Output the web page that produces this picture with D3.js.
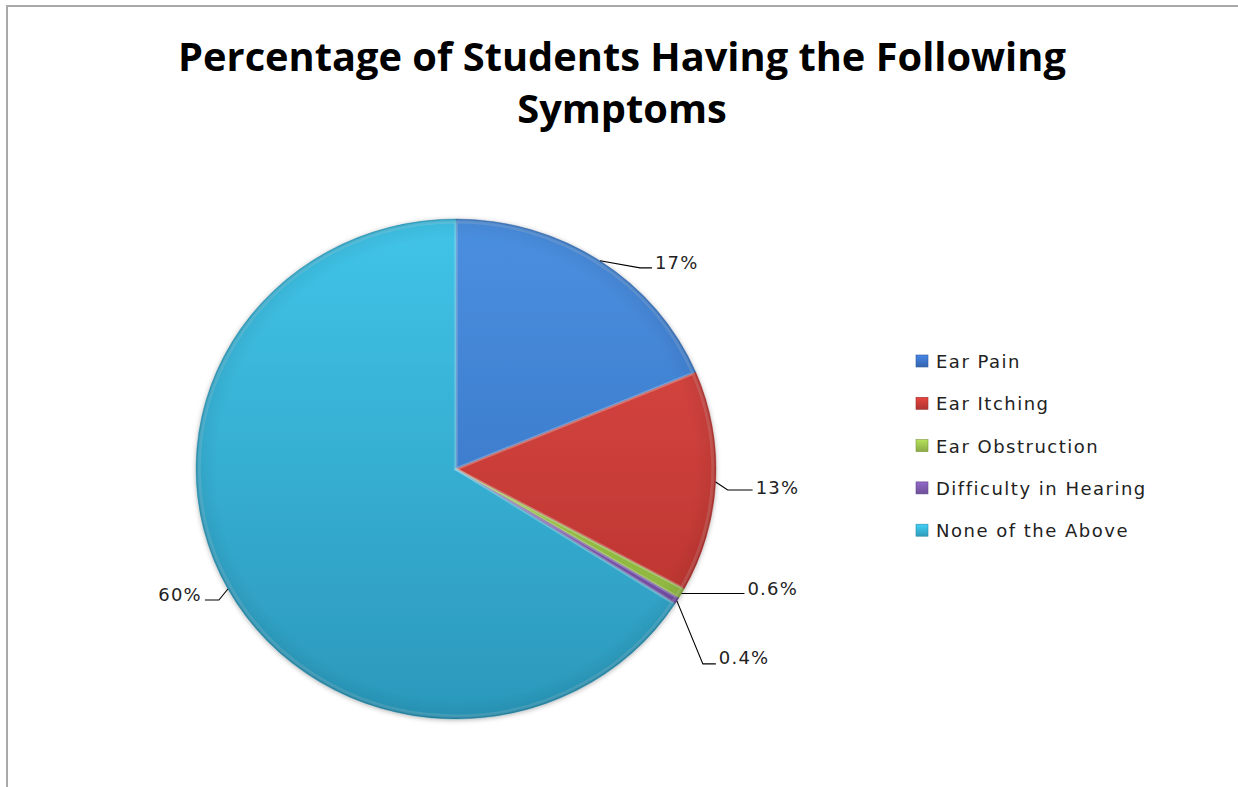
<!DOCTYPE html>
<html>
<head>
<meta charset="utf-8">
<script src="https://cdn.jsdelivr.net/npm/d3@7"></script>
<style>
  html, body { margin: 0; padding: 0; background: #fff; }
  svg { display: block; }
</style>
</head>
<body>
<svg id="chart" width="1238" height="787"></svg>
<script>
// ---- data ----
const categories = ["Ear Pain", "Ear Itching", "Ear Obstruction", "Difficulty in Hearing", "None of the Above"];
const values = [17, 13, 0.6, 0.4, 60];
const valueLabels = ["17%", "13%", "0.6%", "0.4%", "60%"];
const titleLines = ["Percentage of Students Having the Following", "Symptoms"];

// ---- styling ----
const topColors = ["#4b8fe0", "#e04c46", "#a9d252", "#8b62c2", "#40c4e8"];
const bottomColors = ["#316cbc", "#b32f2b", "#86ae3c", "#674896", "#2b98bb"];
const legendColors = ["#3b70c2", "#c23a35", "#98bd4c", "#7a58a8", "#36aed0"];

// leader line layout relative to each slice's outer anchor point:
// [elbowDx, elbowDy, endDx, textSide, baselineShift]
const leaderLayout = [
  [40, 7, 52, 1, 1],
  [12, 8, 37, 1, 4],
  [0, 0, 63, 1, 1],
  [26, 63, 39, 1, 0],
  [-9, 11, -23, -1, 1]
];

const svg = d3.select("#chart");
const W = 1238, H = 787;

// chart area border (top and left edges visible)
svg.append("path")
  .attr("d", `M7,${H} L7,6 L${W},6`)
  .attr("fill", "none")
  .attr("stroke", "#a9a9a9")
  .attr("stroke-width", 2);

// ---- title ----
const titleCx = 622;
const title = svg.append("g");
const t1 = title.append("text")
  .attr("x", titleCx).attr("y", 71)
  .attr("text-anchor", "middle")
  .style("font-family", "'Open Sans', sans-serif")
  .style("font-weight", "bold")
  .style("font-size", "35px")
  .attr("fill", "#000")
  .text(titleLines[0]);
// fit first title line to its width
const targetW = 888;
const w0 = t1.node().getComputedTextLength();
const fs = 35 * targetW / w0;
t1.style("font-size", fs + "px");
title.append("text")
  .attr("x", titleCx).attr("y", 123)
  .attr("text-anchor", "middle")
  .style("font-family", "'Open Sans', sans-serif")
  .style("font-weight", "bold")
  .style("font-size", fs + "px")
  .attr("fill", "#000")
  .text(titleLines[1]);

// ---- pie ----
const cx = 456, cy = 469, R = 250, sx = 1.04;
const defs = svg.append("defs");

values.forEach((v, i) => {
  const g = defs.append("linearGradient")
    .attr("id", "grad" + i)
    .attr("gradientUnits", "userSpaceOnUse")
    .attr("x1", 0).attr("y1", -R).attr("x2", 0).attr("y2", R);
  g.append("stop").attr("offset", "0%").attr("stop-color", topColors[i]);
  g.append("stop").attr("offset", "100%").attr("stop-color", bottomColors[i]);

  const lg = defs.append("linearGradient")
    .attr("id", "lgrad" + i)
    .attr("x1", 0).attr("y1", 0).attr("x2", 0).attr("y2", 1);
  lg.append("stop").attr("offset", "0%").attr("stop-color", d3.color(legendColors[i]).brighter(0.5));
  lg.append("stop").attr("offset", "100%").attr("stop-color", d3.color(legendColors[i]).darker(0.3));
});

// soft rim shading for the bevel look
const rim = defs.append("radialGradient")
  .attr("id", "rim")
  .attr("gradientUnits", "userSpaceOnUse")
  .attr("cx", 0).attr("cy", 0).attr("r", R);
rim.append("stop").attr("offset", "92%").attr("stop-color", "#000").attr("stop-opacity", 0);
rim.append("stop").attr("offset", "98%").attr("stop-color", "#000").attr("stop-opacity", 0.05);
rim.append("stop").attr("offset", "100%").attr("stop-color", "#000").attr("stop-opacity", 0.15);

const shadow = defs.append("filter").attr("id", "shadow")
  .attr("x", "-10%").attr("y", "-10%").attr("width", "120%").attr("height", "120%");
shadow.append("feDropShadow")
  .attr("dx", 0).attr("dy", 1).attr("stdDeviation", 2.5)
  .attr("flood-color", "#000").attr("flood-opacity", 0.3);

const pie = d3.pie().sort(null).value(d => d);
const arcs = pie(values);
const arc = d3.arc().innerRadius(0).outerRadius(R);

const pieG = svg.append("g")
  .attr("transform", `translate(${cx},${cy}) scale(${sx},1)`);

const slices = pieG.append("g").attr("filter", "url(#shadow)");
slices.selectAll("path.slice")
  .data(arcs)
  .join("path")
  .attr("class", "slice")
  .attr("d", arc)
  .attr("fill", (d, i) => `url(#grad${i})`)
  .attr("stroke", (d, i) => d3.color(bottomColors[i]).darker(0.5))
  .attr("stroke-width", 0.6)
  .attr("stroke-opacity", 0.6);

// bevel highlights along the slice edges
pieG.selectAll("path.bevel")
  .data(arcs)
  .join("path")
  .attr("class", "bevel")
  .attr("d", d3.arc().innerRadius(0).outerRadius(R - 3))
  .attr("fill", "none")
  .attr("stroke", "#fff")
  .attr("stroke-opacity", 0.15)
  .attr("stroke-width", 3);

pieG.append("circle")
  .attr("r", R)
  .attr("fill", "url(#rim)")
  .attr("pointer-events", "none");

// ---- data labels with leader lines ----
const labelsG = svg.append("g");
arcs.forEach((d, i) => {
  const mid = (d.startAngle + d.endAngle) / 2;
  const ax = cx + sx * R * Math.sin(mid);
  const ay = cy - R * Math.cos(mid);
  const [ex, ey, endDx, side, bShift] = leaderLayout[i];
  const p1 = [ax + ex, ay + ey];
  const p2 = [ax + endDx, ay + ey];
  labelsG.append("path")
    .attr("d", d3.line()([[ax, ay], p1, p2]))
    .attr("fill", "none")
    .attr("stroke", "#000")
    .attr("stroke-width", 1.1);
  labelsG.append("text")
    .attr("x", p2[0] + side * 3)
    .attr("y", p2[1] + bShift)
    .attr("text-anchor", side > 0 ? "start" : "end")
    .style("font-family", "'DejaVu Sans', sans-serif")
    .style("font-size", "18px")
    .style("letter-spacing", "1.2px")
    .attr("fill", "#222")
    .text(valueLabels[i]);
});

// ---- legend ----
const legend = svg.append("g").attr("transform", "translate(916,355)");
const rowH = 42.3;
categories.forEach((c, i) => {
  const row = legend.append("g").attr("transform", `translate(0,${i * rowH})`);
  row.append("rect")
    .attr("x", 0).attr("y", 0).attr("width", 12).attr("height", 12)
    .attr("fill", `url(#lgrad${i})`)
    .attr("stroke", d3.color(legendColors[i]).darker(0.6))
    .attr("stroke-width", 0.6);
  row.append("text")
    .attr("x", 20).attr("y", 13)
    .style("font-family", "'DejaVu Sans', sans-serif")
    .style("font-size", "18px")
    .style("letter-spacing", "1.5px")
    .attr("fill", "#222")
    .text(c);
});
</script>
</body>
</html>
